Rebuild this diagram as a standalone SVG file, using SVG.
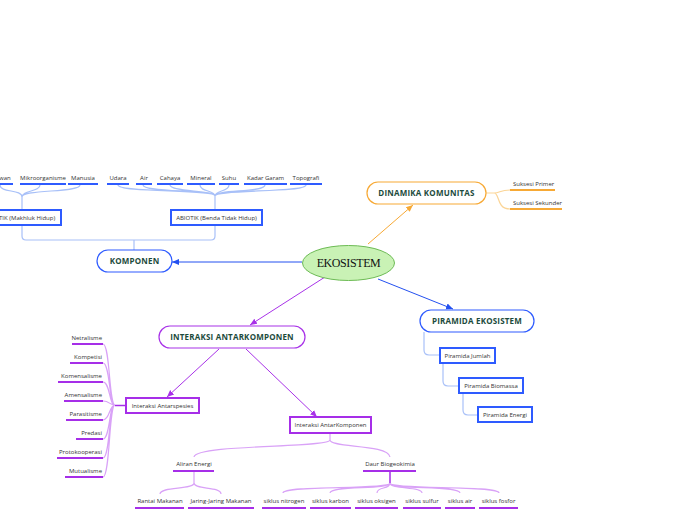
<svg xmlns="http://www.w3.org/2000/svg" width="696" height="520" viewBox="0 0 696 520">
<defs>
<style>
.t{font-family:"Open Sans","Noto Sans",sans-serif;font-size:6px;fill:#333;}
.m{text-anchor:middle;}
.e{text-anchor:end;}
.h{font-family:"Open Sans","Noto Sans",sans-serif;font-size:8px;font-weight:bold;fill:#1c4b3c;text-anchor:middle;letter-spacing:0.2px;}
.ub{stroke:#2e5bff;stroke-width:2;}
.uo{stroke:#f7a935;stroke-width:2;}
.up{stroke:#a62ee8;stroke-width:2;}
.cb{fill:none;stroke:#a8c0f8;stroke-width:1.2;}
.co{fill:none;stroke:#fbd597;stroke-width:1.2;}
.cp{fill:none;stroke:#d9a2f7;stroke-width:1.2;}
.ab{fill:none;stroke:#2350f0;stroke-width:1;}
.ao{fill:none;stroke:#f7a935;stroke-width:1;}
.ap{fill:none;stroke:#a832e8;stroke-width:1;}
.bb{fill:#fff;stroke:#2e5bff;stroke-width:2;}
.bp{fill:#fff;stroke:#a62ee8;stroke-width:2;}
</style>
<marker id="mb" markerWidth="8" markerHeight="8" refX="7" refY="4" orient="auto" markerUnits="userSpaceOnUse"><path d="M0,1 L7,4 L0,7 Z" fill="#2350f0"/></marker>
<marker id="mo" markerWidth="8" markerHeight="8" refX="7" refY="4" orient="auto" markerUnits="userSpaceOnUse"><path d="M0,1 L7,4 L0,7 Z" fill="#f7a935"/></marker>
<marker id="mp" markerWidth="8" markerHeight="8" refX="7" refY="4" orient="auto" markerUnits="userSpaceOnUse"><path d="M0,1 L7,4 L0,7 Z" fill="#a832e8"/></marker>
</defs>
<rect width="696" height="520" fill="#fff"/>

<g id="connectors">
<!-- main arrows -->
<path class="ab" d="M302 262 L172 262" marker-end="url(#mb)"/>
<path class="ao" d="M368 244 L413 205" marker-end="url(#mo)"/>
<path class="ab" d="M378 279 L453 309" marker-end="url(#mb)"/>
<path class="ap" d="M325 277 L250 325" marker-end="url(#mp)"/>
<path class="ap" d="M219 349 L167 397" marker-end="url(#mp)"/>
<path class="ap" d="M246 349 L317 417" marker-end="url(#mp)"/>
<!-- komponen -->
<path class="cb" d="M134 250 V240 M22 225 V236 Q22 240 26 240 H211 Q215 240 215 236 V225"/>
<path class="cb" d="M22 210 V197 M0 185 C0 193 22 189 22 197 M40 185 C40 192 22 190 22 197 M80 185 C80 193 22 189 22 197"/>
<path class="cb" d="M215 210 V196 M118 185 C118 193 215 189 215 196 M143 185 C143 193 215 189 215 196 M170 185 C170 192 215 190 215 196 M200 185 C200 192 215 190 215 196 M229 185 C229 192 215 190 215 196 M265 185 C265 193 215 189 215 196 M306 185 C306 193 215 189 215 196"/>
<!-- dinamika -->
<path class="co" d="M486 193 H494 C500 193 500 190 510 190 M494 193 C500 193 496 209 510 209"/>
<!-- piramida -->
<path class="cb" d="M424 332 V350 Q424 355 429 355 H440 M443 363 V381 Q443 386 448 386 H459 M463 393 V410 Q463 415 468 415 H478"/>
<!-- antarspesies -->
<path class="cp" d="M103 344 C110 344 109 405 115 405 M103 363 C110 363 109 405 115 405 M103 382 C110 382 109 405 115 405 M103 401 C110 401 109 405 115 405 M103 420 C110 420 109 405 115 405 M103 439 C110 439 109 405 115 405 M103 458 C110 458 109 405 115 405 M103 477 C110 477 109 405 115 405"/>
<path d="M115 405.5 H126" stroke="#a62ee8" stroke-width="1.5"/>
<!-- antarkomponen -->
<path class="cp" d="M330 433 V440 C330 448 196 444 194 457 M330 440 C330 448 388 444 390 457"/>
<path class="cp" d="M194 471 V483 C194 490 160 486 160 494 M194 483 C194 490 221 486 221 494"/>
<path d="M390 471 V483" stroke="#a62ee8" stroke-width="1.5"/>
<path class="cp" d="M390 483 C390 490 283 485 283 493 M390 483 C390 490 330 485 330 493 M390 483 C390 490 377 486 377 493 M390 483 C390 490 422 486 422 493 M390 483 C390 490 460 485 460 493 M390 483 C390 490 499 485 499 493"/>
</g>

<g id="ekosistem">
<ellipse cx="348.5" cy="263" rx="46" ry="17.5" fill="#c9f2b5" stroke="#6dbb55" stroke-width="1"/>
<text x="348.5" y="267" font-family="Liberation Serif,serif" font-size="12" fill="#111" text-anchor="middle" letter-spacing="-0.4">EKOSISTEM</text>
</g>

<g id="komponen">
<rect x="97" y="250" width="75" height="22" rx="11" fill="#fff" stroke="#2e5bff" stroke-width="1.2"/>
<text class="h" x="134.5" y="264">KOMPONEN</text>
</g>
<g id="biotik">
<rect class="bb" x="-18" y="210" width="79" height="15"/>
<text class="t m" x="22" y="220">BIOTIK (Makhluk Hidup)</text>
</g>
<g id="abiotik">
<rect class="bb" x="171" y="210" width="91" height="15"/>
<text class="t m" x="216.5" y="220">ABIOTIK (Benda Tidak Hidup)</text>
</g>
<g id="leaf-hewan"><text class="t m" x="1" y="180">Hewan</text><line class="ub" x1="-12" y1="184" x2="13" y2="184"/></g>
<g id="leaf-mikro"><text class="t m" x="43" y="180">Mikroorganisme</text><line class="ub" x1="20" y1="184" x2="66" y2="184"/></g>
<g id="leaf-manusia"><text class="t m" x="83" y="180">Manusia</text><line class="ub" x1="68" y1="184" x2="98" y2="184"/></g>
<g id="leaf-udara"><text class="t m" x="118" y="180">Udara</text><line class="ub" x1="107" y1="184" x2="129" y2="184"/></g>
<g id="leaf-air"><text class="t m" x="144" y="180">Air</text><line class="ub" x1="136" y1="184" x2="152" y2="184"/></g>
<g id="leaf-cahaya"><text class="t m" x="170" y="180">Cahaya</text><line class="ub" x1="157" y1="184" x2="183" y2="184"/></g>
<g id="leaf-mineral"><text class="t m" x="201" y="180">Mineral</text><line class="ub" x1="187" y1="184" x2="215" y2="184"/></g>
<g id="leaf-suhu"><text class="t m" x="229" y="180">Suhu</text><line class="ub" x1="219" y1="184" x2="239" y2="184"/></g>
<g id="leaf-kadar"><text class="t m" x="265.5" y="180">Kadar Garam</text><line class="ub" x1="244" y1="184" x2="287" y2="184"/></g>
<g id="leaf-topografi"><text class="t m" x="306" y="180">Topografi</text><line class="ub" x1="290" y1="184" x2="322" y2="184"/></g>

<g id="dinamika">
<rect x="367" y="182" width="119" height="22" rx="11" fill="#fff" stroke="#f7a935" stroke-width="1.2"/>
<text class="h" x="426.5" y="196">DINAMIKA KOMUNITAS</text>
</g>
<g id="leaf-primer"><text class="t" x="513" y="186">Suksesi Primer</text><line class="uo" x1="510" y1="190" x2="555" y2="190"/></g>
<g id="leaf-sekunder"><text class="t" x="513" y="205">Suksesi Sekunder</text><line class="uo" x1="510" y1="209" x2="562" y2="209"/></g>

<g id="piramida">
<rect x="420" y="310" width="114" height="22" rx="11" fill="#fff" stroke="#2e5bff" stroke-width="1.2"/>
<text class="h" x="477" y="324">PIRAMIDA EKOSISTEM</text>
</g>
<g id="pir-jumlah"><rect class="bb" x="440" y="348" width="55" height="15"/><text class="t m" x="467.5" y="358">Piramida Jumlah</text></g>
<g id="pir-biomassa"><rect class="bb" x="459" y="378" width="64" height="15"/><text class="t m" x="491" y="388">Piramida Biomassa</text></g>
<g id="pir-energi"><rect class="bb" x="478" y="407" width="54" height="15"/><text class="t m" x="505" y="417">Piramida Energi</text></g>

<g id="interaksi">
<rect x="159" y="326" width="146" height="22" rx="11" fill="#fff" stroke="#a832e8" stroke-width="1.2"/>
<text class="h" x="232" y="340">INTERAKSI ANTARKOMPONEN</text>
</g>
<g id="antarspesies"><rect class="bp" x="126" y="398" width="73" height="15"/><text class="t m" x="162.5" y="408">Interaksi Antarspesies</text></g>
<g id="antarkomponen"><rect class="bp" x="290" y="417" width="81" height="16"/><text class="t m" x="330.5" y="427">Interaksi AntarKomponen</text></g>

<g id="leaf-netralisme"><text class="t e" x="102" y="340">Netralisme</text><line class="up" x1="72" y1="344" x2="103" y2="344"/></g>
<g id="leaf-kompetisi"><text class="t e" x="102" y="359">Kompetisi</text><line class="up" x1="70" y1="363" x2="103" y2="363"/></g>
<g id="leaf-komensalisme"><text class="t e" x="102" y="378">Komensalisme</text><line class="up" x1="58" y1="382" x2="103" y2="382"/></g>
<g id="leaf-amensalisme"><text class="t e" x="102" y="397">Amensalisme</text><line class="up" x1="64" y1="401" x2="103" y2="401"/></g>
<g id="leaf-parasitisme"><text class="t e" x="102" y="416">Parasitisme</text><line class="up" x1="66" y1="420" x2="103" y2="420"/></g>
<g id="leaf-predasi"><text class="t e" x="102" y="435">Predasi</text><line class="up" x1="76" y1="439" x2="103" y2="439"/></g>
<g id="leaf-proto"><text class="t e" x="102" y="454">Protokooperasi</text><line class="up" x1="57" y1="458" x2="103" y2="458"/></g>
<g id="leaf-mutualisme"><text class="t e" x="102" y="473">Mutualisme</text><line class="up" x1="65" y1="477" x2="103" y2="477"/></g>

<g id="aliran"><text class="t m" x="194" y="466">Aliran Energi</text><line class="up" x1="173" y1="471" x2="214" y2="471"/></g>
<g id="daur"><text class="t m" x="390" y="466">Daur Biogeokimia</text><line class="up" x1="363" y1="471" x2="416" y2="471"/></g>

<g id="leaf-rantai"><text class="t m" x="160" y="503">Rantai Makanan</text><line class="up" x1="135" y1="508" x2="184" y2="508"/></g>
<g id="leaf-jaring"><text class="t m" x="221" y="503">Jaring-Jaring Makanan</text><line class="up" x1="188" y1="508" x2="254" y2="508"/></g>
<g id="leaf-nitrogen"><text class="t m" x="284" y="503">siklus nitrogen</text><line class="up" x1="262" y1="508" x2="306" y2="508"/></g>
<g id="leaf-karbon"><text class="t m" x="330.5" y="503">siklus karbon</text><line class="up" x1="310" y1="508" x2="351" y2="508"/></g>
<g id="leaf-oksigen"><text class="t m" x="376.5" y="503">siklus oksigen</text><line class="up" x1="355" y1="508" x2="398" y2="508"/></g>
<g id="leaf-sulfur"><text class="t m" x="422" y="503">siklus sulfur</text><line class="up" x1="403" y1="508" x2="441" y2="508"/></g>
<g id="leaf-air2"><text class="t m" x="460" y="503">siklus air</text><line class="up" x1="445" y1="508" x2="475" y2="508"/></g>
<g id="leaf-fosfor"><text class="t m" x="498.5" y="503">siklus fosfor</text><line class="up" x1="479" y1="508" x2="518" y2="508"/></g>
</svg>
